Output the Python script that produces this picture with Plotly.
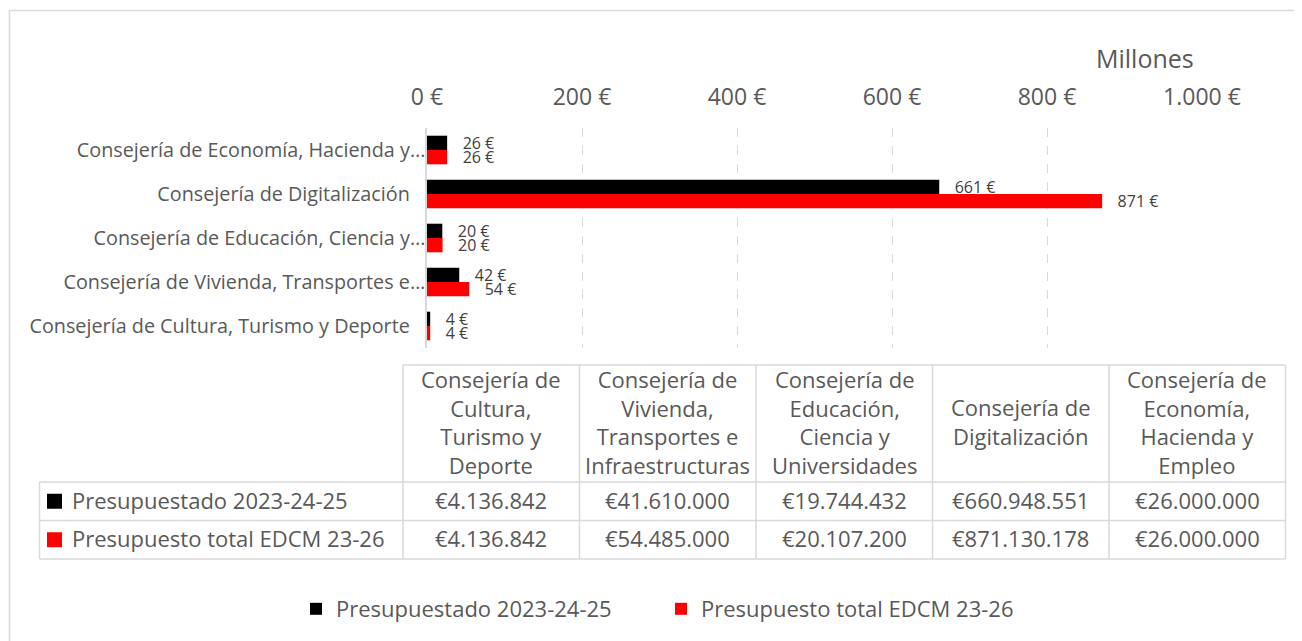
import plotly.graph_objects as go

W, H = 1302, 641
OFF = 8  # the page body adds an 8px margin around the figure

# categories in the order used by the data table (Cultura first)
departments = [
    "Consejería de Cultura, Turismo y Deporte",
    "Consejería de Vivienda, Transportes e Infraestructuras",
    "Consejería de Educación, Ciencia y Universidades",
    "Consejería de Digitalización",
    "Consejería de Economía, Hacienda y Empleo",
]
axis_labels = [
    "Consejería de Cultura, Turismo y Deporte\u00a0\u00a0\u00a0",
    "Consejería de Vivienda, Transportes e…",
    "Consejería de Educación, Ciencia y…",
    "Consejería de Digitalización\u00a0\u00a0\u00a0",
    "Consejería de Economía, Hacienda y…",
]
table_headers = [
    "Consejería de<br>Cultura,<br>Turismo y<br>Deporte",
    "Consejería de<br>Vivienda,<br>Transportes e<br>Infraestructuras",
    "Consejería de<br>Educación,<br>Ciencia y<br>Universidades",
    "Consejería de<br>Digitalización",
    "Consejería de<br>Economía,<br>Hacienda y<br>Empleo",
]
presupuestado_2023 = [4136842, 41610000, 19744432, 660948551, 26000000]
total_edcm = [4136842, 54485000, 20107200, 871130178, 26000000]

series_names = ["Presupuestado 2023-24-25", "Presupuesto total EDCM 23-26"]
series_colors = ["#000000", "#FF0000"]

TXT = "#595959"
GRID = "#D9D9D9"
FONT = "Open Sans"

# table geometry (pixels)
COL_EDGES = [39.5, 403] + [403 + 176.5 * i for i in range(1, 6)]
ROW_EDGES = [365, 482, 520.5, 559]


def euros(v):
    return "€" + f"{v:,}".replace(",", ".")


def px_x(p):
    return (p - OFF) / W


def px_y(p):
    return (H - (p - OFF)) / H


fig = go.Figure()

for name, color, vals in zip(series_names, series_colors, [presupuestado_2023, total_edcm]):
    fig.add_trace(go.Bar(
        y=departments,
        x=[v / 1e6 for v in vals],
        orientation="h",
        name=name,
        marker=dict(color=color, line=dict(width=0)),
        texttemplate="\u00a0\u00a0\u00a0%{x:.0f} €",
        textposition="outside",
        constraintext="none",
        cliponaxis=False,
        textfont=dict(size=16, color="#404040", family=FONT),
    ))

# data table under the chart: borders
shapes = []


def hline(y, x0, x1):
    shapes.append(dict(type="line", xref="paper", yref="paper",
                       x0=px_x(x0), x1=px_x(x1), y0=px_y(y), y1=px_y(y),
                       line=dict(color=GRID, width=1.5)))


def vline(x, y0, y1):
    shapes.append(dict(type="line", xref="paper", yref="paper",
                       x0=px_x(x), x1=px_x(x), y0=px_y(y0), y1=px_y(y1),
                       line=dict(color=GRID, width=1.5)))


hline(ROW_EDGES[0], COL_EDGES[1], COL_EDGES[-1])
for y in ROW_EDGES[1:]:
    hline(y, COL_EDGES[0], COL_EDGES[-1])
vline(COL_EDGES[0], ROW_EDGES[1], ROW_EDGES[-1])
for x in COL_EDGES[1:]:
    vline(x, ROW_EDGES[0], ROW_EDGES[-1])

annotations = []
tfont = dict(family=FONT, size=22, color=TXT)
for i, head in enumerate(table_headers):
    xc = (COL_EDGES[i + 1] + COL_EDGES[i + 2]) / 2
    annotations.append(dict(text=head, xref="paper", yref="paper",
                            x=px_x(xc), y=px_y((ROW_EDGES[0] + ROW_EDGES[1]) / 2 - 2),
                            xanchor="center", yanchor="middle", align="center",
                            showarrow=False, font=tfont))

for r, (name, color, vals) in enumerate(zip(series_names, series_colors,
                                            [presupuestado_2023, total_edcm])):
    yc = (ROW_EDGES[r + 1] + ROW_EDGES[r + 2]) / 2
    # colour key square in the row header
    shapes.append(dict(type="rect", xref="paper", yref="paper",
                       x0=px_x(47), x1=px_x(62), y0=px_y(yc + 7.5), y1=px_y(yc - 7.5),
                       fillcolor=color, line=dict(width=0)))
    annotations.append(dict(text=name, xref="paper", yref="paper",
                            x=px_x(70), y=px_y(yc - 1.5), xanchor="left", yanchor="middle",
                            showarrow=False, font=tfont))
    for i, v in enumerate(vals):
        xc = (COL_EDGES[i + 1] + COL_EDGES[i + 2]) / 2
        annotations.append(dict(text=euros(v), xref="paper", yref="paper",
                                x=px_x(xc), y=px_y(yc - 1.5), xanchor="center",
                                yanchor="middle", showarrow=False, font=tfont))

annotations.append(dict(
    text="Millones", xref="paper", yref="paper",
    x=px_x(1145), y=px_y(58), xanchor="center", yanchor="middle",
    showarrow=False, font=dict(family=FONT, size=25, color=TXT),
))

# chart area border
shapes.append(dict(
    type="rect", xref="paper", yref="paper",
    x0=px_x(9.5), x1=1.02, y0=-0.02, y1=px_y(10.5),
    line=dict(color=GRID, width=1.5), layer="below",
))

fig.update_layout(
    width=W, height=H,
    margin=dict(l=0, r=0, t=0, b=0, autoexpand=False),
    paper_bgcolor="white",
    plot_bgcolor="white",
    separators=",.",
    barmode="group",
    bargap=0.35,
    bargroupgap=0,
    font=dict(family=FONT, color=TXT),
    xaxis=dict(
        domain=[px_x(427), px_x(1202)],
        side="top",
        range=[0, 1000],
        dtick=200,
        tickformat=",d",
        ticksuffix=" €",
        showgrid=True,
        gridcolor=GRID,
        griddash="dash",
        zeroline=False,
        ticklabelstandoff=17,
        tickfont=dict(size=23, color=TXT),
    ),
    yaxis=dict(
        domain=[px_y(348), px_y(128)],
        autorange="reversed",
        categoryorder="array",
        categoryarray=departments[::-1],
        tickvals=departments,
        ticktext=axis_labels,
        showline=True,
        linecolor=GRID,
        linewidth=1.5,
        showgrid=False,
        tickfont=dict(size=19.8, color=TXT),
        ticklabelstandoff=-4,
    ),
    legend=dict(
        orientation="h",
        x=px_x(296), xanchor="left",
        y=px_y(609), yanchor="middle",
        font=dict(size=22, color=TXT),
        entrywidth=320,
    ),
    shapes=shapes,
    annotations=annotations,
)

fig.write_html("out.html")
